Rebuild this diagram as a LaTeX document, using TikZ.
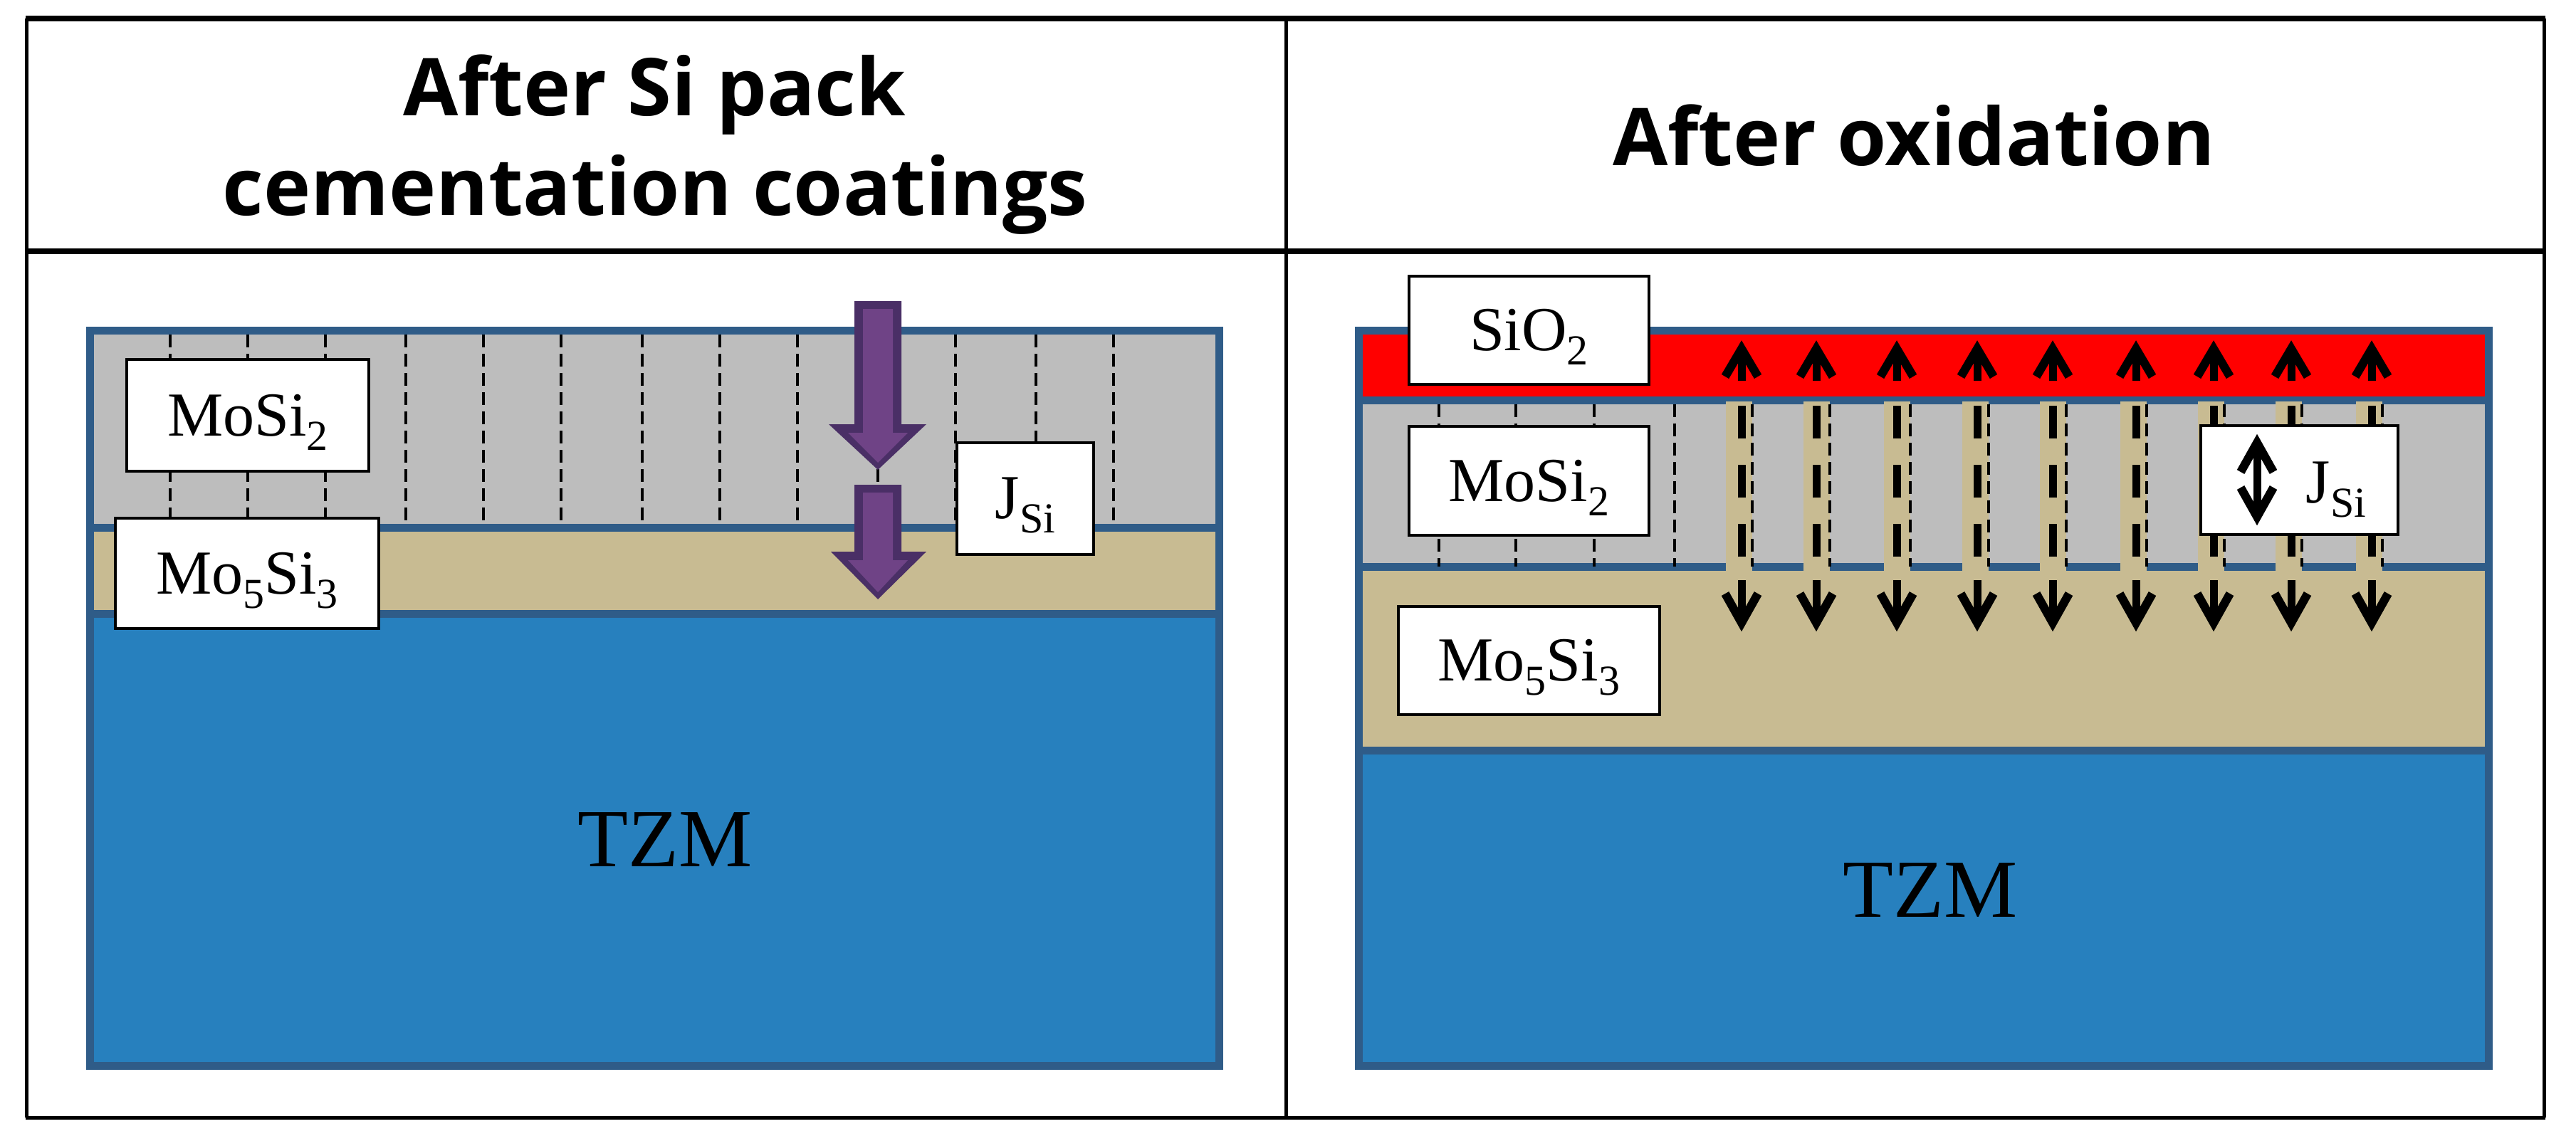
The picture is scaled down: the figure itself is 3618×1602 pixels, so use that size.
\documentclass[tikz,border=0pt]{standalone}
\usepackage{fontspec}
\setmainfont{Liberation Serif}
\newfontfamily\titlefont{Open Sans}[BoldFont={Open Sans Bold}]
\newcommand{\ssub}[1]{\smash{\raisebox{-10pt}{\fontsize{30}{32}\selectfont #1}}}
\definecolor{edgeblue}{HTML}{2F5C88}
\definecolor{fillgrey}{HTML}{BDBDBD}
\definecolor{filltan}{HTML}{C8BB92}
\definecolor{fillblue}{HTML}{2780BE}
\definecolor{purpledark}{HTML}{4A2F66}
\definecolor{purplefill}{HTML}{6F4386}
\tikzset{
  labelbox/.style={draw=black,fill=white,line width=2pt,inner sep=0pt,font=\fontsize{44}{50}\selectfont},
  plainlabel/.style={inner sep=0pt,font=\fontsize{44}{50}\selectfont},
  tzmlabel/.style={inner sep=0pt,font=\fontsize{58}{64}\selectfont},
  headlabel/.style={inner sep=0pt,anchor=base,font=\titlefont\bfseries\fontsize{56}{64}\selectfont},
  tableline/.style={draw=black,line width=4pt},
  tablerule/.style={draw=black,line width=2.5pt},
  layeredge/.style={draw=edgeblue,line width=5.5pt},
  thindash/.style={draw=black,line width=1.8pt,dash pattern=on 9pt off 4.5pt},
  thickdash/.style={draw=black,line width=5.5pt,dash pattern=on 23pt off 18.5pt},
  arrowshaft/.style={draw=black,line width=5.5pt},
  arrowbarb/.style={draw=black,line width=6pt,miter limit=10},
}
\begin{document}
\begin{tikzpicture}[x=0.5pt,y=-0.5pt]
\useasboundingbox (0,0) rectangle (3618,1602);
\fill[white] (0,0) rectangle (3618,1602);

% ---- left panel
\fill[fillgrey] (126,464) rectangle (1712,741);
\fill[filltan]  (126,741) rectangle (1712,862);
\fill[fillblue] (126,862) rectangle (1712,1497);
\foreach \x in {239,348,457,570,679,788,902,1011,1120,1233,1342,1455,1564}
  \draw[thindash] (\x,470) -- (\x,735);
\draw[layeredge] (126,741) -- (1712,741);
\draw[layeredge] (126,862) -- (1712,862);
\draw[layeredge] (126,464) rectangle (1712,1497);

% purple arrows
\fill[purpledark] (1200,423) -- (1266,423) -- (1266,596) -- (1301,596) -- (1233,660) -- (1164,596) -- (1200,596) -- cycle;
\fill[purplefill] (1212,434) -- (1254,434) -- (1254,608) -- (1275,608) -- (1233,650) -- (1191,608) -- (1212,608) -- cycle;
\fill[purpledark] (1200,681) -- (1266,681) -- (1266,775) -- (1301,775) -- (1233,842) -- (1167,775) -- (1200,775) -- cycle;
\fill[purplefill] (1212,692) -- (1254,692) -- (1254,787) -- (1275,787) -- (1233,832) -- (1191,787) -- (1212,787) -- cycle;

\node[labelbox,minimum width=170pt,minimum height=78.5pt] (mosiL) at (348,583.5) {MoSi\ssub{2}};
\node[labelbox,minimum width=185pt,minimum height=77.5pt] (mofiveL) at (347,805.5) {Mo\ssub{5}Si\ssub{3}};
\node[labelbox,minimum width=96pt,minimum height=78.5pt] (jsiL) at (1440,700.5) {J\ssub{Si}};
\node[tzmlabel] (tzmL) at (934,1180) {TZM};

% ---- right panel
\fill[red]      (1908,464) rectangle (3495,558);
\fill[fillgrey] (1908,562) rectangle (3495,796);
\fill[filltan]  (1908,796) rectangle (3495,1054);
\fill[fillblue] (1908,1054) rectangle (3495,1497);
\draw[layeredge] (1908,562) -- (3495,562);
\draw[layeredge] (1908,796) -- (3495,796);
\draw[layeredge] (1908,1054) -- (3495,1054);
\draw[layeredge] (1908,464) rectangle (3495,1497);
\foreach \x in {2461,2570,2683,2793,2902,3015,3124,3233,3346}
  \fill[filltan] (\x-37,564) rectangle (\x,802);
\foreach \x in {2021,2129,2239,2352,2461,2570,2683,2793,2902,3015,3124,3233,3346}
  \draw[thindash] (\x,568) -- (\x,796);
\foreach \x in {2446,2551,2664,2777,2883,3000,3109,3218,3331}{
  \draw[thickdash] (\x,570) -- (\x,782);
  \draw[arrowshaft] (\x,535) -- (\x,495);
  \draw[arrowbarb] (\x-23,529) -- (\x,490) -- (\x+23,529);
  \draw[arrowshaft] (\x,815) -- (\x,870);
  \draw[arrowbarb] (\x-23,834) -- (\x,875) -- (\x+23,834);
}
\node[labelbox,minimum width=168.5pt,minimum height=76pt] (sioR) at (2147.5,464) {SiO\ssub{2}};
\node[labelbox,minimum width=168.5pt,minimum height=76.5pt] (mosiR) at (2147.5,675.5) {MoSi\ssub{2}};
\node[labelbox,minimum width=183.5pt,minimum height=76pt] (mofiveR) at (2147.5,928) {Mo\ssub{5}Si\ssub{3}};
\node[labelbox,minimum width=138.5pt,minimum height=76.5pt] (jsiR) at (3229.5,674.5) {};
\node[plainlabel] (jsiRtext) at (3281,678) {J\ssub{Si}};
\draw[arrowshaft] (3170,628) -- (3170,722);
\draw[arrowbarb] (3147,663) -- (3170,622) -- (3193,663);
\draw[arrowbarb] (3147,685) -- (3170,726) -- (3193,685);
\node[tzmlabel] (tzmR) at (2711,1250) {TZM};

% ---- table
\draw[tablerule] (37,26) -- (37,1570);
\draw[tablerule] (3573,26) -- (3573,1570);
\draw[tablerule] (1806,26) -- (1806,1570);
\draw[tableline] (36,26) -- (3575,26);
\draw[tableline] (36,353) -- (3575,353);
\draw[tablerule] (36,1570) -- (3575,1570);
\node[headlabel] (headA) at (919,162) {After Si pack};
\node[headlabel] (headB) at (920,302) {cementation coatings};
\node[headlabel] (headC) at (2688,232) {After oxidation};
\end{tikzpicture}
\end{document}
